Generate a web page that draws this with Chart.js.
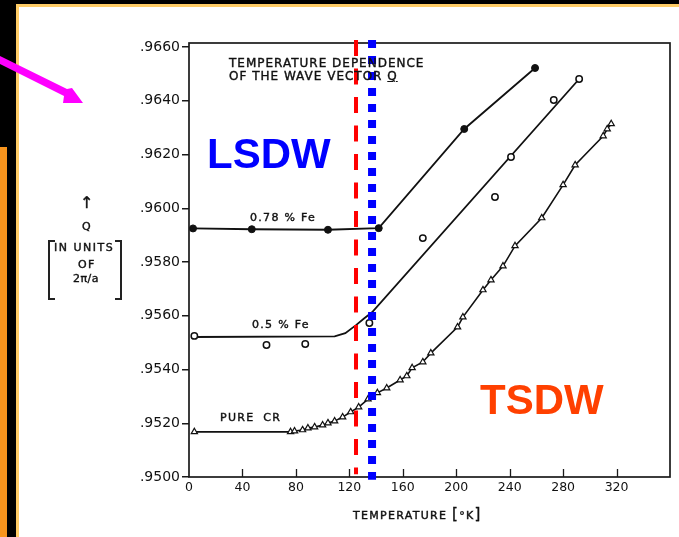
<!DOCTYPE html>
<html>
<head>
<meta charset="utf-8">
<script src="https://cdn.jsdelivr.net/npm/chart.js@4.4.0/dist/chart.umd.min.js"></script>
<style>
	body { margin: 0; background: #fff; }
	#wrap { position: relative; width: 679px; height: 537px; overflow: hidden; background: #fff; font-family: "DejaVu Sans", sans-serif; color: #111; }
	#wrap canvas { position: absolute; left: 0; top: 0; z-index: 2; }
	.deco { position: absolute; z-index: 1; }
	.lbl { position: absolute; z-index: 3; font-size: 11px; line-height: 11px; letter-spacing: 1.3px; white-space: nowrap; -webkit-text-stroke: 0.4px #111; }
	.big { position: absolute; z-index: 3; font-family: "Liberation Sans", Arial, sans-serif; font-weight: bold; font-size: 42px; line-height: 42px; }
	.brk { position: absolute; z-index: 3; width: 5px; height: 56px; border: 2px solid #222; }
</style>
</head>
<body>
<div id="wrap">
	<!-- slide frame -->
	<div class="deco" style="left:0;top:0;width:679px;height:4px;background:#000"></div>
	<div class="deco" style="left:16px;top:4px;width:663px;height:3px;background:#ffcc66"></div>
	<div class="deco" style="left:0;top:0;width:16px;height:537px;background:#000"></div>
	<div class="deco" style="left:16px;top:4px;width:3px;height:533px;background:#ffcc66"></div>
	<div class="deco" style="left:0;top:147px;width:7px;height:390px;background:#f7941d"></div>
	<svg class="deco" style="left:0;top:0;z-index:3" width="100" height="120">
		<polygon points="0,56 67,89 72,88 83,103 63,103 64,96 0,64" fill="#ff00ff"/>
	</svg>

	<canvas id="chart" width="679" height="537"></canvas>

	<div class="lbl" style="left:229px;top:57px;font-size:12px;line-height:12px;letter-spacing:1px">TEMPERATURE DEPENDENCE</div>
	<div class="lbl" style="left:229px;top:70px;font-size:12px;line-height:12px;letter-spacing:1px">OF THE WAVE VECTOR <u>Q</u></div>

	<div class="lbl" style="left:250px;top:212px">0.78 % Fe</div>
	<div class="lbl" style="left:252px;top:319px">0.5 % Fe</div>
	<div class="lbl" style="left:220px;top:412px;word-spacing:4px">PURE CR</div>

	<!-- y axis title -->
	<div class="lbl" style="left:80px;top:195px;font-size:16px;line-height:16px">↑</div>
	<div class="lbl" style="left:82px;top:221px">Q</div>
	<div class="brk" style="left:48px;top:240px;border-right:none"></div>
	<div class="brk" style="left:115px;top:240px;border-left:none"></div>
	<div class="lbl" style="left:54px;top:242px;letter-spacing:1.5px">IN UNITS</div>
	<div class="lbl" style="left:78px;top:259px">OF</div>
	<div class="lbl" style="left:73px;top:273px;letter-spacing:0.5px">2π/a</div>

	<div class="lbl" style="left:353px;top:509px">TEMPERATURE <span style="font-size:15px">[</span>°K<span style="font-size:15px">]</span></div>

	<div class="big" style="left:207px;top:133px;color:#0000ff">LSDW</div>
	<div class="big" style="left:480px;top:379px;color:#ff4000">TSDW</div>
</div>

<script>
// tick labels
const xTicks = [0, 40, 80, 120, 160, 200, 240, 280, 320];
const yTicks = [0.9500, 0.9520, 0.9540, 0.9560, 0.9580, 0.9600, 0.9620, 0.9640, 0.9660];

// 0.78 % Fe (filled circles), temperature in K, Q in units of 2pi/a
const fe78T = [3, 47, 104, 142, 206, 259];
const fe78Q = [0.95925, 0.95922, 0.95920, 0.95926, 0.96295, 0.96522];

// 0.5 % Fe (open circles)
const fe50T = [4, 58, 87, 135, 175, 229, 241, 273, 292];
const fe50Q = [0.95525, 0.95491, 0.95495, 0.95573, 0.95889, 0.96042, 0.96191, 0.96403, 0.96481];
// hand drawn curve through the 0.5 % Fe data
const fe50FitT = [3, 109, 117, 125, 131, 137, 292];
const fe50FitQ = [0.95521, 0.95523, 0.95535, 0.95565, 0.95590, 0.95613, 0.96481];

// pure Cr (triangles)
const crT = [4, 76, 79, 85, 89, 94, 100, 104, 109, 115, 121, 127, 134, 141, 148, 158,
	163, 167, 175, 181, 201, 205, 220, 226, 235, 244, 264, 280, 289, 310, 313, 316];
const crQ = [0.95168, 0.95168, 0.95171, 0.95175, 0.95182, 0.95186, 0.95193, 0.95201, 0.95208, 0.95223,
	0.95242, 0.95260, 0.95290, 0.95313, 0.95331, 0.95361, 0.95376, 0.95406, 0.95428, 0.95461,
	0.95558, 0.95595, 0.95696, 0.95733, 0.95785, 0.95860, 0.95964, 0.96087, 0.96161, 0.96269,
	0.96295, 0.96314];

// LSDW / TSDW transition markers
const redT = 125;
const blueT = 137;
const markerQ = [0.96626, 0.95010];
const blueQ = [0.96626, 0.94990];

var toPoints = (xs, ys) => xs.map((x, i) => ({ x: x, y: ys[i] }));

// box round the plot plus the inward x ticks
var framePlugin = {
	id: 'frame',
	beforeDatasetsDraw: (chart) => {
		const ctx = chart.ctx;
		const a = chart.chartArea;
		const xs = chart.scales.x;
		ctx.save();
		ctx.strokeStyle = '#1a1a1a';
		ctx.lineWidth = 1.7;
		ctx.strokeRect(a.left, a.top, a.right - a.left, a.bottom - a.top);
		ctx.lineWidth = 1.3;
		xTicks.forEach(v => {
			if (v == 0) return;
			const px = Math.round(xs.getPixelForValue(v)) + 0.5;
			ctx.beginPath();
			ctx.moveTo(px, a.bottom);
			ctx.lineTo(px, a.bottom - 8);
			ctx.stroke();
		});
		ctx.restore();
	}
};

new Chart(document.getElementById('chart'), {
	type: 'scatter',
	data: {
		datasets: [
			{
				data: toPoints([blueT, blueT], blueQ),
				showLine: true, pointRadius: 0, clip: false,
				borderColor: '#0000ff', borderWidth: 8, borderDash: [8, 8], borderCapStyle: 'butt'
			},
			{
				data: toPoints([redT, redT], markerQ),
				showLine: true, pointRadius: 0, clip: false,
				borderColor: '#ff0000', borderWidth: 4, borderDash: [16, 12.5], borderCapStyle: 'butt'
			},
			{
				data: toPoints(fe78T, fe78Q),
				showLine: true, borderColor: '#111', borderWidth: 1.8,
				pointStyle: 'circle', pointRadius: 3.5,
				pointBackgroundColor: '#111', pointBorderColor: '#111', pointBorderWidth: 1
			},
			{
				data: toPoints(fe50T, fe50Q),
				showLine: false,
				pointStyle: 'circle', pointRadius: 3.2,
				pointBackgroundColor: '#fff', pointBorderColor: '#111', pointBorderWidth: 1.5
			},
			{
				data: toPoints(fe50FitT, fe50FitQ),
				showLine: true, pointRadius: 0, borderColor: '#111', borderWidth: 1.8
			},
			{
				data: toPoints(crT, crQ),
				showLine: true, borderColor: '#111', borderWidth: 1.6,
				pointStyle: 'triangle', pointRadius: 3.6,
				pointBackgroundColor: '#fff', pointBorderColor: '#111', pointBorderWidth: 1.2
			}
		]
	},
	options: {
		responsive: false,
		animation: false,
		layout: { padding: { left: 130, top: 43, right: 9, bottom: 40 } },
		plugins: { legend: { display: false }, tooltip: { enabled: false } },
		scales: {
			x: {
				type: 'linear', min: 0, max: 360,
				afterBuildTicks: (s) => { s.ticks = xTicks.map(v => ({ value: v })); },
				afterFit: (s) => { s.height = 20; },
				grid: { display: false, drawTicks: false },
				border: { display: false },
				ticks: { padding: 3, font: { family: 'DejaVu Sans', size: 12.5 }, color: '#111', maxRotation: 0, autoSkip: false }
			},
			y: {
				type: 'linear', min: 0.9500, max: 0.96615,
				afterBuildTicks: (s) => { s.ticks = yTicks.map(v => ({ value: v })); },
				afterFit: (s) => { s.width = 59; },
				grid: { display: true, drawOnChartArea: false, drawTicks: true, tickLength: 7, color: '#1a1a1a', lineWidth: 1.5 },
				border: { display: false },
				ticks: {
					padding: 2, font: { family: 'DejaVu Sans', size: 14 }, color: '#111', autoSkip: false,
					callback: (v) => v.toFixed(4).replace(/^0/, '')
				}
			}
		}
	},
	plugins: [framePlugin]
});
</script>
</body>
</html>
